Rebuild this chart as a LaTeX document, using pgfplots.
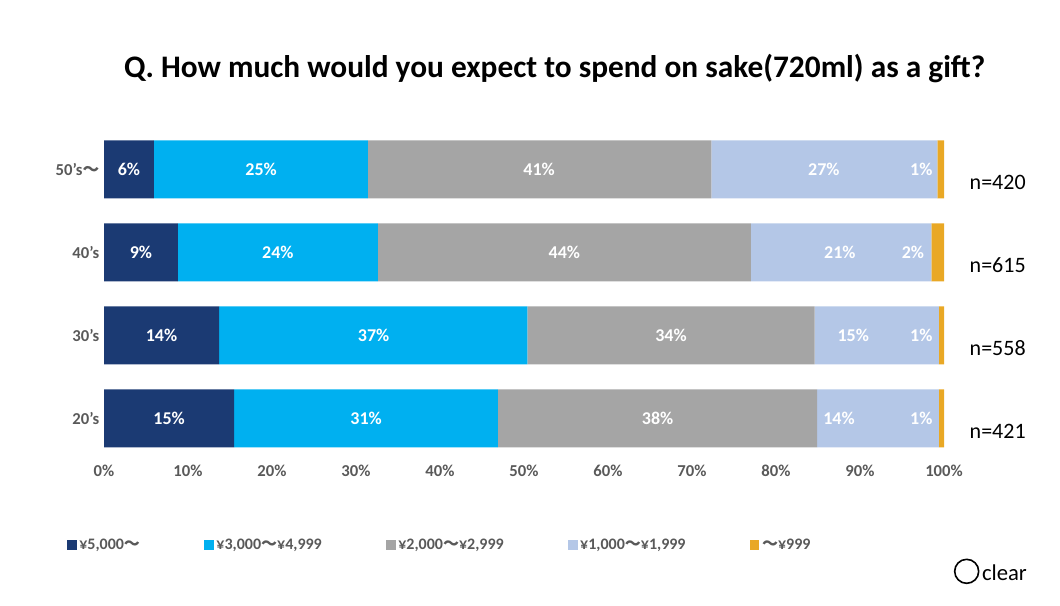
\documentclass[border=0pt]{standalone}
\usepackage{pgfplots}
\pgfplotsset{compat=1.18}
\usepackage{fontspec}
\setmainfont{Carlito}
\newfontfamily\cjk{Noto Sans CJK JP}
\DeclareRobustCommand{\wv}{{\cjk 〜}}
\definecolor{cA}{HTML}{1B3A73}
\definecolor{cB}{HTML}{00B0F0}
\definecolor{cC}{HTML}{A5A5A5}
\definecolor{cD}{HTML}{B4C7E7}
\definecolor{cE}{HTML}{E9A825}
\definecolor{tk}{HTML}{595959}
\tikzset{lb/.style={font=\bfseries\fontsize{13.5}{15}\selectfont,text=white},
 nn/.style={font=\fontsize{16.5}{18}\selectfont,anchor=west}}
\pgfplotsset{geom/.style={at={(78pt,109.5pt)},anchor=south west,scale only axis,
 width=630pt,height=249pt,xmin=0,xmax=100,ymin=-0.5,ymax=3.5,clip=false}}
\begin{document}
\begin{tikzpicture}
\path (0pt,0pt) rectangle (795pt,454.5pt);
\node[font=\bfseries\fontsize{23.5}{26}\selectfont] at (416pt,403pt) {Q. How much would you expect to spend on sake(720ml) as a gift?};
\begin{axis}[geom,xbar stacked,bar width=43.5pt,
 ytick={0,1,2,3},yticklabels={{20's},{30's},{40's},{50's\wv}},
 xtick={0,10,...,100},xticklabels={0\%,10\%,20\%,30\%,40\%,50\%,60\%,70\%,80\%,90\%,100\%},
 ticklabel style={font=\bfseries\fontsize{12.5}{14}\selectfont,text=tk},
 axis line style={draw=none},major tick length=0pt,
 legend columns=5,
 legend image code/.code={\fill[#1,draw=none] (0cm,-0.13cm) rectangle (0.26cm,0.13cm);},
 legend style={draw=none,at={(0.40,0)},yshift=-64pt,anchor=center,
   font=\bfseries\fontsize{12}{14}\selectfont,text=tk,
   /tikz/every even column/.append style={column sep=46pt}}]
\addplot[fill=cA,draw=none] coordinates {(5.95,3) (8.8,2) (13.7,1) (15.5,0)};
\addplot[fill=cB,draw=none] coordinates {(25.45,3) (23.8,2) (36.7,1) (31.4,0)};
\addplot[fill=cC,draw=none] coordinates {(40.9,3) (44.4,2) (34.2,1) (38.0,0)};
\addplot[fill=cD,draw=none] coordinates {(26.9,3) (21.5,2) (14.8,1) (14.5,0)};
\addplot[fill=cE,draw=none] coordinates {(0.8,3) (1.5,2) (0.6,1) (0.6,0)};
\legend{{¥5{,}000\wv},{¥3{,}000\wv¥4{,}999},{¥2{,}000\wv¥2{,}999},{¥1{,}000\wv¥1{,}999},{\wv¥999}}
\end{axis}
\begin{axis}[geom,hide axis]
\node[lb] at (axis cs:2.97,3) {6\%};
\node[lb] at (axis cs:18.7,3) {25\%};
\node[lb] at (axis cs:51.8,3) {41\%};
\node[lb] at (axis cs:85.7,3) {27\%};
\node[lb] at (axis cs:97.3,3) {1\%};
\node[lb] at (axis cs:4.4,2) {9\%};
\node[lb] at (axis cs:20.7,2) {24\%};
\node[lb] at (axis cs:54.8,2) {44\%};
\node[lb] at (axis cs:87.6,2) {21\%};
\node[lb] at (axis cs:96.3,2) {2\%};
\node[lb] at (axis cs:6.85,1) {14\%};
\node[lb] at (axis cs:32.1,1) {37\%};
\node[lb] at (axis cs:67.5,1) {34\%};
\node[lb] at (axis cs:89.2,1) {15\%};
\node[lb] at (axis cs:97.3,1) {1\%};
\node[lb] at (axis cs:7.75,0) {15\%};
\node[lb] at (axis cs:31.2,0) {31\%};
\node[lb] at (axis cs:65.9,0) {38\%};
\node[lb] at (axis cs:87.5,0) {14\%};
\node[lb] at (axis cs:97.3,0) {1\%};
\node[nn] at (axis cs:102.5,2.85) {n=420};
\node[nn] at (axis cs:102.5,1.85) {n=615};
\node[nn] at (axis cs:102.5,0.85) {n=558};
\node[nn] at (axis cs:102.5,-0.15) {n=421};
\end{axis}
\draw[line width=1.2pt] (725pt,26pt) circle (9pt);
\node[anchor=west,font=\fontsize{17}{19}\selectfont] at (733pt,25pt) {clear};
\end{tikzpicture}
\end{document}
